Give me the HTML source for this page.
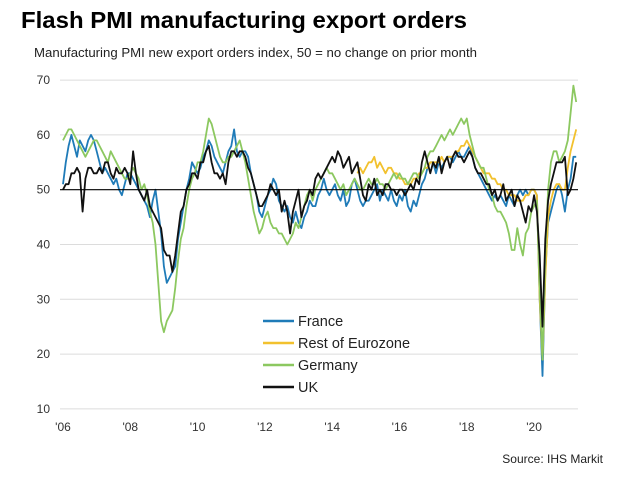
<!DOCTYPE html>
<html><head><meta charset="utf-8"><style>
body{margin:0;background:#fff;font-family:"Liberation Sans",Arial,sans-serif;}
#wrap{position:relative;width:633px;height:487px;overflow:hidden;}
</style></head><body>
<div id="wrap">
<svg id="chart" width="633" height="487">
<text x="21" y="28" font-size="23.5" font-weight="bold" fill="#000" textLength="446" lengthAdjust="spacingAndGlyphs">Flash PMI manufacturing export orders</text>
<text x="34" y="57" font-size="13" fill="#222" textLength="443" lengthAdjust="spacingAndGlyphs">Manufacturing PMI new export orders index, 50 = no change on prior month</text>
<g id="grid"></g><g id="axes"></g><g id="lines"></g><g id="legend"></g>
<text x="603" y="463" font-size="12" fill="#222" text-anchor="end">Source: IHS Markit</text>
</svg></div>
<script>
const yTicks=[10,20,30,40,50,60,70];
const xTickLabels=["'06","'08","'10","'12","'14","'16","'18","'20"];
const xTickYears=[2006,2008,2010,2012,2014,2016,2018,2020];
const seriesNames=["France","Rest of Eurozone","Germany","UK"];
const france=[51,55,58,60,58,56,59,58,57,59,60,59, 57,55,53,54,53,52,51,52,50,49,51,53, 53,52,51,50,49,48,47,45,48,50,46,42, 36,33,34,35,36,41,44,47,50,52,55,54, 53,54,56,57,59,58,56,55,54,53,55,57, 58,61,57,56,57,57,56,53,51,49,46,45, 47,49,50,52,51,48,47,46,47,45,44,46, 44,43,45,46,48,47,47,49,50,52,50,49, 50,51,49,48,50,47,48,51,52,50,48,47, 48,48,49,50,51,48,50,49,48,50,48,47, 49,48,50,47,46,48,47,49,51,52,54,55, 55,53,55,54,55,56,56,55,56,57,56,56, 57,58,56,54,53,52,51,50,49,48,49,48, 49,48,47,49,48,47,49,50,49,50,49,50, 50,49,30,16,35,44,46,48,50,51,49,46, 50,52,56,56];
const restStart=2014+9/12;
const restEZ=[53,54,53, 54,55,55,56,54,55,54,53,54,54,53,53, 52,52,51,51,51,52,52,53,53,54,54,55, 55,55,55,56,55,56,56,56,57,57,58,58, 59,58,57,56,55,54,53,53,53,52,52,51, 51,50,50,49,49,49,48,48,48,49,49,50, 50,49,30,19,34,45,48,50,51,51,50,50, 54,57,59,61];
const germany=[59,60,61,61,60,59,58,57,56,57,58,59, 59,58,57,56,55,57,56,55,54,53,52,52, 53,54,53,52,50,51,49,46,44,40,33,26, 24,26,27,28,32,37,41,43,47,50,52,53, 55,55,57,60,63,62,60,58,56,55,55,56, 56,57,58,59,57,55,52,49,46,44,42,43, 45,46,44,43,43,42,42,41,40,41,42,44, 43,45,47,49,50,48,50,51,52,53,54,53, 53,52,51,50,51,49,50,51,52,51,50,50, 51,52,51,51,52,51,51,50,51,52,53,52, 53,52,52,51,52,53,53,52,53,54,56,57, 57,58,59,60,59,60,61,60,61,62,63,62, 63,60,58,56,55,54,54,52,50,49,47,46, 46,45,44,42,39,39,43,40,38,42,43,46, 47,48,32,19,38,50,55,57,57,55,56,57, 59,64,69,66];
const uk=[50,51,51,53,53,54,53,46,52,54,54,53, 53,54,53,55,55,53,52,54,53,53,54,53, 51,57,53,50,49,48,50,47,46,45,44,43, 39,38,38,35,38,42,46,47,50,51,53,53, 52,55,55,57,58,55,53,53,52,53,51,55, 57,57,56,57,57,56,54,53,51,49,47,47, 48,49,51,50,49,50,46,48,46,42,46,48, 50,45,47,48,50,49,52,53,52,53,54,55, 56,55,57,56,54,55,56,53,54,55,52,49, 48,51,50,52,49,50,49,51,51,50,50,49, 50,50,49,50,51,50,52,51,55,57,55,53, 55,54,56,53,55,56,54,56,57,56,56,55, 56,57,56,54,53,53,52,51,51,49,50,48, 49,51,48,49,50,47,49,48,46,44,47,46, 49,46,38,25,41,48,51,53,55,55,55,56, 49,50,52,55];
const colors=["#1f7bb8","#f2c12e","#8cc860","#111111"];
const NS="http://www.w3.org/2000/svg";
const X0=63,PX_PER_YEAR=33.65,Y0=189.7,PX_PER_UNIT=5.48;
function xs(t){return X0+(t-2006)*PX_PER_YEAR;}
function ys(v){return Y0-(v-50)*PX_PER_UNIT;}
function mk(tag,attrs,parent){const e=document.createElementNS(NS,tag);for(const k in attrs)e.setAttribute(k,attrs[k]);parent.appendChild(e);return e;}
const grid=document.getElementById('grid'),axes=document.getElementById('axes'),lines=document.getElementById('lines'),legend=document.getElementById('legend');
yTicks.forEach(v=>{
  if(v!==50){const l=mk('line',{x1:60,x2:578,y1:ys(v),y2:ys(v),stroke:'#dcdcdc','stroke-width':1},grid);
  
  }
  const t=mk('text',{x:50,y:ys(v)+4,'font-size':12,fill:'#333','text-anchor':'end'},axes);
  t.textContent=v;
  
  
});
xTickLabels.forEach((lab,i)=>{
  const t=mk('text',{x:xs(xTickYears[i]),y:431,'font-size':12,fill:'#333','text-anchor':'middle'},axes);
  t.textContent=lab;
  
  
});
function draw(arr,start,color,name){
  const pts=arr.map((v,i)=>xs(start+i/12).toFixed(1)+','+ys(v).toFixed(1)).join(' ');
  const p=mk('polyline',{points:pts,fill:'none',stroke:color,'stroke-width':1.8,'stroke-linejoin':'round'},lines);
  
  
}
draw(france,2006,colors[0],'france');
draw(restEZ,restStart,colors[1],'rest-of-eurozone');
draw(germany,2006,colors[2],'germany');
draw(uk,2006,colors[3],'uk');
const base=mk('line',{x1:60,x2:578,y1:ys(50),y2:ys(50),stroke:'#000','stroke-width':1.2},lines);


seriesNames.forEach((n,i)=>{
  const y=321+i*22;
  const l=mk('line',{x1:263,x2:294,y1:y,y2:y,stroke:colors[i],'stroke-width':2.5},legend);
  
  
  const t=mk('text',{x:298,y:y+5,'font-size':14.5,fill:'#222'},legend);
  t.textContent=n;
  
  
});
</script>
</body></html>
